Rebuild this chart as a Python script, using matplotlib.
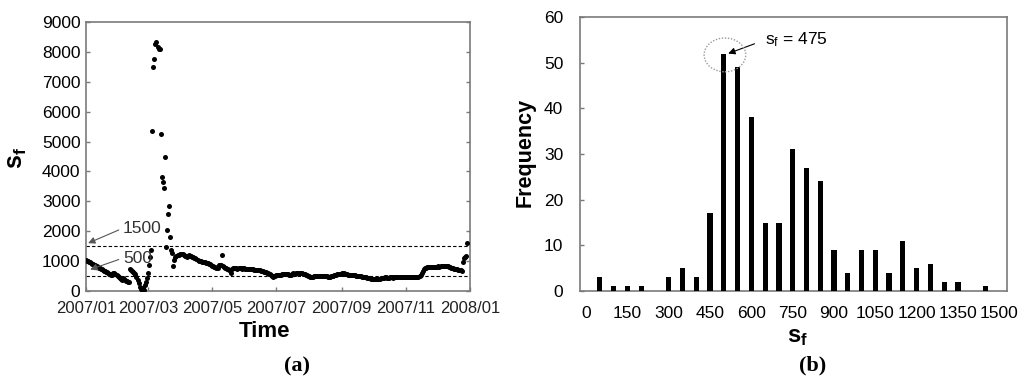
import matplotlib
matplotlib.use('Agg')
import matplotlib.pyplot as plt
import matplotlib.dates as mdates
from matplotlib.patches import Ellipse
import numpy as np
import pandas as pd

plt.rcParams['font.family'] = ['Liberation Sans', 'DejaVu Sans']
plt.rcParams['mathtext.fontset'] = 'custom'
plt.rcParams['mathtext.rm'] = 'Liberation Sans'
plt.rcParams['mathtext.it'] = 'Liberation Sans'
plt.rcParams['mathtext.bf'] = 'Liberation Sans:bold'

# ---- panel (a): daily s_f values, 2007 ----
jan = [1030, 1010, 990, 975, 960, 940, 920, 900, 880, 855, 830, 805, 780, 760, 740, 720,
       700, 680, 660, 640, 620, 600, 580, 560, 540, 520, 590, 610, 570, 530, 500]
feb = [470, 440, 410, 380, 420, 400, 370, 350, 330, 310, 300, 720, 700, 670, 640, 600,
       560, 480, 380, 260, 150, 60, 20, 110, 40, 200, 310, 450]
mar = [600, 870, 1150, 1370, 5360, 7500, 7760, 8250, 8340, 8170, 8100, 8080, 5250, 3820,
       3660, 3460, 4490, 1460, 2040, 2570, 2840, 1820, 1370, 1260, 840, 1040, 1130, 1170,
       1200, 1220, 1230]
apr = [1240, 1250, 1230, 1200, 1180, 1160, 1150, 1170, 1190, 1180, 1170, 1150, 1130, 1120,
       1100, 1060, 1040, 1020, 1000, 990, 985, 980, 975, 960, 950, 940, 925, 910, 890, 870]
may = [850, 830, 810, 790, 770, 760, 860, 880, 860, 1200, 820, 800, 780, 760, 750, 720,
       700, 700, 590, 740, 760, 770, 760, 760, 750, 760, 770, 760, 750, 760, 755]
jun = [750, 745, 740, 735, 730, 725, 730, 735, 725, 715, 710, 700, 705, 700, 690, 680,
       670, 660, 650, 640, 630, 610, 595, 580, 560, 530, 500, 480, 490, 510]
jul = [520, 530, 535, 540, 550, 560, 570, 565, 560, 570, 575, 560, 545, 535, 550, 570,
       590, 580, 575, 590, 600, 610, 605, 600, 590, 585, 575, 560, 540, 520, 500]
aug = [490, 485, 480, 475, 480, 490, 500, 495, 490, 500, 505, 500, 495, 500, 510, 500,
       495, 490, 485, 480, 480, 490, 500, 510, 520, 530, 545, 560, 570, 575, 580]
sep = [590, 595, 590, 580, 570, 560, 550, 540, 545, 540, 535, 540, 530, 520, 510, 505,
       500, 495, 490, 485, 480, 475, 470, 460, 450, 440, 430, 420, 415, 410]
oct_ = [405, 400, 395, 390, 395, 400, 410, 420, 430, 440, 450, 455, 455, 450, 445, 450,
        455, 460, 455, 450, 455, 460, 465, 470, 475, 480, 480, 475, 480, 485, 480]
nov = [475, 470, 465, 460, 455, 455, 460, 465, 470, 475, 480, 480, 485, 490, 520, 590,
       660, 720, 760, 780, 790, 800, 810, 805, 810, 815, 810, 805, 810, 815]
dec = [815, 820, 810, 820, 830, 840, 845, 850, 845, 835, 820, 800, 790, 780, 770, 760,
       750, 740, 730, 720, 710, 700, 690, 670, 980, 1120, 1150, 1170, 1590]

thresholds = [1500, 500]
threshold_labels = ['1500', '500']

# ---- panel (b): histogram of s_f ----
bin_centers = [50, 100, 150, 200, 250, 300, 350, 400, 450, 500, 550, 600, 650, 700, 750,
               800, 850, 900, 950, 1000, 1050, 1100, 1150, 1200, 1250, 1300, 1350, 1400, 1450]
frequency = [3, 1, 1, 1, 0, 3, 5, 3, 17, 52, 49, 38, 15, 15, 31,
             27, 24, 9, 4, 9, 9, 4, 11, 5, 6, 2, 2, 0, 1]
hist_xticks = [0, 150, 300, 450, 600, 750, 900, 1050, 1200, 1350, 1500]

values = np.concatenate([jan, feb, mar, apr, may, jun, jul, aug, sep, oct_, nov, dec])
dates = pd.date_range('2007-01-01', periods=len(values), freq='D')

W, H = 1024, 385
fig = plt.figure(figsize=(W / 100, H / 100), dpi=100)
ax1 = fig.add_axes([86 / W, 1 - 291 / H, 384 / W, 269 / H])
ax2 = fig.add_axes([580 / W, 1 - 291 / H, 427 / W, 274 / H])

spine_col = '#7a7a7a'

# ---------- panel (a) ----------
ax1.scatter(dates, values, s=13, color='black', linewidths=0, zorder=3)
for t in thresholds:
    ax1.axhline(t, color='black', lw=0.8, ls=(0, (3, 2)), zorder=2)
ax1.set_xlim(pd.Timestamp('2007-01-01'), pd.Timestamp('2008-01-01'))
ax1.set_ylim(0, 9000)
ax1.set_yticks(range(0, 9001, 1000))
tick_dates = [pd.Timestamp(s) for s in ['2007-01-01', '2007-03-01', '2007-05-01', '2007-07-01',
                                        '2007-09-01', '2007-11-01', '2008-01-01']]
ax1.set_xticks(tick_dates)
ax1.xaxis.set_major_formatter(mdates.DateFormatter('%Y/%m'))
ax1.tick_params(axis='y', direction='in', length=3, right=True, labelsize=12.5, pad=4,
                color=spine_col, width=1)
ax1.tick_params(axis='x', direction='in', length=3, labelsize=12, pad=7,
                color=spine_col, width=1, labelcolor='#222222')
for sp in ax1.spines.values():
    sp.set_color(spine_col)
    sp.set_linewidth(1.2)

ax1.annotate(threshold_labels[0], xy=(pd.Timestamp('2007-01-03'), 1600),
             xytext=(pd.Timestamp('2007-02-05'), 2100), fontsize=12.5, color='#333333',
             ha='left', va='center',
             arrowprops=dict(arrowstyle='-|>', color='#555555', lw=0.8,
                             shrinkA=1, shrinkB=0, relpos=(0, 0.5), mutation_scale=10))
ax1.annotate(threshold_labels[1], xy=(pd.Timestamp('2007-01-05'), 720),
             xytext=(pd.Timestamp('2007-02-05'), 1100), fontsize=12.5, color='#333333',
             ha='left', va='center',
             arrowprops=dict(arrowstyle='-|>', color='#555555', lw=0.8,
                             shrinkA=1, shrinkB=0, relpos=(0, 0.5), mutation_scale=10))

ax1.set_xlabel('Time', fontsize=16, fontweight='bold', va='center')
ax1.xaxis.set_label_coords(0.466, -0.152)
ax1.set_ylabel(r'$\mathbf{s_f}$', fontsize=18, va='center', ha='center')
ax1.yaxis.set_label_coords(-0.18, 0.494)

# ---------- panel (b) ----------
ax2.bar(bin_centers, frequency, width=19, color='black', zorder=3)
ax2.set_xlim(-22, 1528)
ax2.set_ylim(0, 60)
ax2.set_xticks(hist_xticks)
ax2.set_yticks(range(0, 61, 10))
ax2.tick_params(axis='x', length=0, labelsize=12.5, pad=11)
ax2.tick_params(axis='y', direction='in', length=3, labelsize=12.5, pad=12,
                color=spine_col, width=1)
for sp in ax2.spines.values():
    sp.set_color(spine_col)
    sp.set_linewidth(1.2)

ax2.add_patch(Ellipse((504, 51.7), width=151, height=7.4, fill=False,
                      ec='#9a9a9a', ls=(0, (1, 1.2)), lw=1, zorder=4))
ax2.annotate(r'$\mathregular{s_f}$ = 475', xy=(516, 52), xytext=(650, 55),
             fontsize=12.5, ha='left', va='center',
             arrowprops=dict(arrowstyle='-|>', color='black', lw=0.8,
                             shrinkA=6, shrinkB=0, relpos=(0, 0.5), mutation_scale=10))

ax2.set_xlabel(r'$\mathbf{s_f}$', fontsize=17, va='center')
ax2.xaxis.set_label_coords(0.51, -0.168)
ax2.set_ylabel('Frequency', fontsize=15.5, fontweight='bold', va='center', ha='center')
ax2.yaxis.set_label_coords(-0.129, 0.507)

fig.text(297 / W, 1 - 366 / H, '(a)', family='Liberation Serif', fontweight='bold',
         fontsize=16, ha='center', va='center')
fig.text(813 / W, 1 - 365 / H, '(b)', family='Liberation Serif', fontweight='bold',
         fontsize=16, ha='center', va='center')

fig.savefig('out.png', dpi=100)
